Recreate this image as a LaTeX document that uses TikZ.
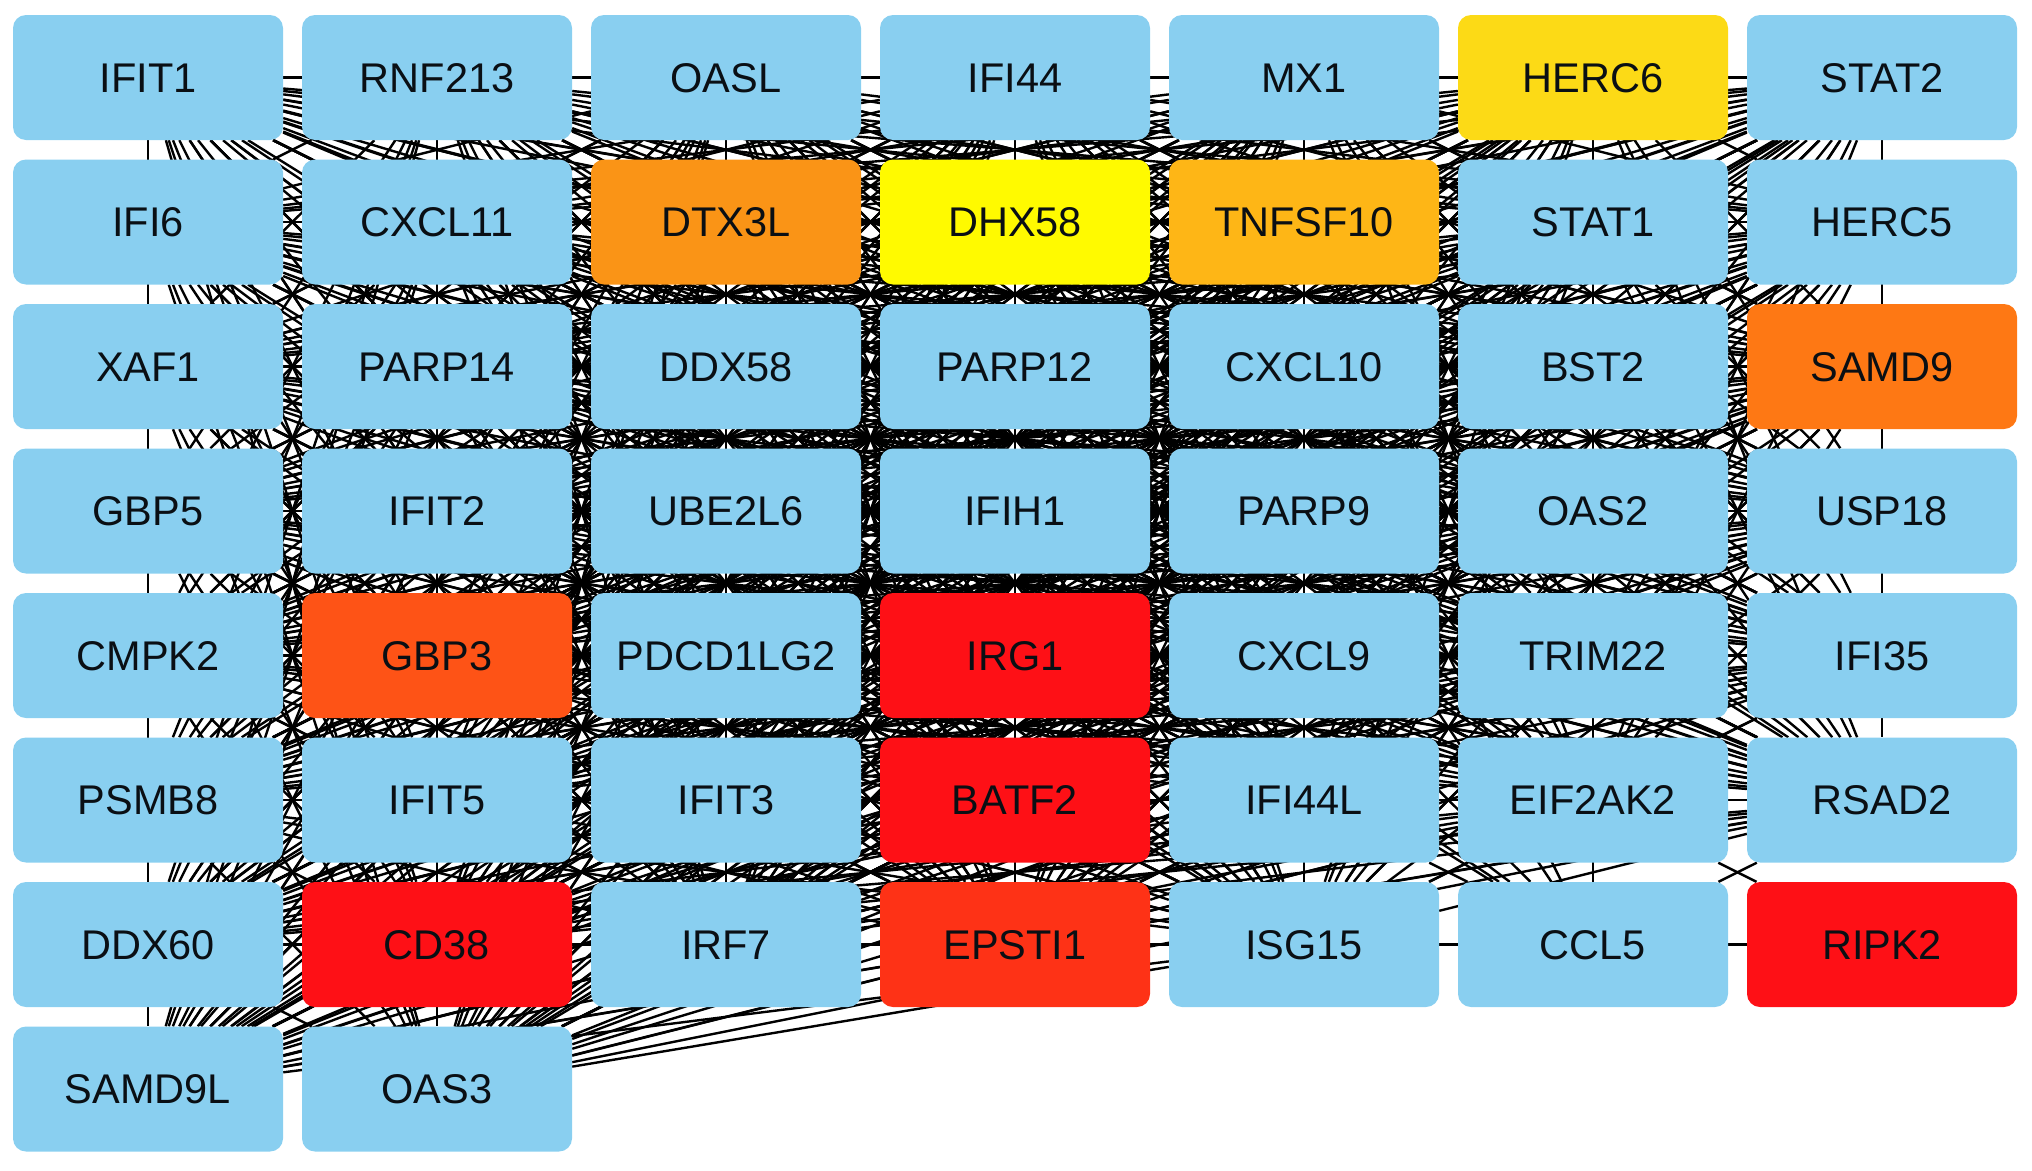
\documentclass[tikz,border=0pt]{standalone}
\usepackage{fontspec}
\newfontfamily\genefont{Liberation Sans}
\usetikzlibrary{backgrounds}
\definecolor{cb}{RGB}{137,207,240}
\definecolor{cherc}{RGB}{252,218,22}
\definecolor{cdtx}{RGB}{250,148,22}
\definecolor{cdhx}{RGB}{255,250,0}
\definecolor{ctnf}{RGB}{254,182,22}
\definecolor{csamd}{RGB}{254,120,20}
\definecolor{cgbp}{RGB}{254,83,22}
\definecolor{cred}{RGB}{254,16,22}
\definecolor{cep}{RGB}{254,50,22}
\definecolor{ctxt}{RGB}{10,15,20}
\tikzset{
  gn/.style={rectangle, rounded corners=13pt, minimum width=270pt, minimum height=125pt,
    inner sep=0pt, text height=29.5pt, text depth=0pt, text=ctxt,
    font={\genefont\fontsize{41.5}{45}\selectfont}, fill=cb},
  edge/.style={line width=2.4pt, black}
}
\begin{document}
\begin{tikzpicture}[x=1pt,y=-1pt]
\useasboundingbox (0,0) rectangle (2032,1170);
% row 1
\node[gn] (n1) at (148,77.5) {IFIT1};
\node[gn] (n2) at (437,77.5) {RNF213};
\node[gn] (n3) at (726,77.5) {OASL};
\node[gn] (n4) at (1015,77.5) {IFI44};
\node[gn] (n5) at (1304,77.5) {MX1};
\node[gn, fill=cherc] (n6) at (1593,77.5) {HERC6};
\node[gn] (n7) at (1882,77.5) {STAT2};
% row 2
\node[gn] (n8) at (148,222) {IFI6};
\node[gn] (n9) at (437,222) {CXCL11};
\node[gn, fill=cdtx] (n10) at (726,222) {DTX3L};
\node[gn, fill=cdhx] (n11) at (1015,222) {DHX58};
\node[gn, fill=ctnf] (n12) at (1304,222) {TNFSF10};
\node[gn] (n13) at (1593,222) {STAT1};
\node[gn] (n14) at (1882,222) {HERC5};
% row 3
\node[gn] (n15) at (148,366.5) {XAF1};
\node[gn] (n16) at (437,366.5) {PARP14};
\node[gn] (n17) at (726,366.5) {DDX58};
\node[gn] (n18) at (1015,366.5) {PARP12};
\node[gn] (n19) at (1304,366.5) {CXCL10};
\node[gn] (n20) at (1593,366.5) {BST2};
\node[gn, fill=csamd] (n21) at (1882,366.5) {SAMD9};
% row 4
\node[gn] (n22) at (148,511) {GBP5};
\node[gn] (n23) at (437,511) {IFIT2};
\node[gn] (n24) at (726,511) {UBE2L6};
\node[gn] (n25) at (1015,511) {IFIH1};
\node[gn] (n26) at (1304,511) {PARP9};
\node[gn] (n27) at (1593,511) {OAS2};
\node[gn] (n28) at (1882,511) {USP18};
% row 5
\node[gn] (n29) at (148,655.5) {CMPK2};
\node[gn, fill=cgbp] (n30) at (437,655.5) {GBP3};
\node[gn] (n31) at (726,655.5) {PDCD1LG2};
\node[gn, fill=cred] (n32) at (1015,655.5) {IRG1};
\node[gn] (n33) at (1304,655.5) {CXCL9};
\node[gn] (n34) at (1593,655.5) {TRIM22};
\node[gn] (n35) at (1882,655.5) {IFI35};
% row 6
\node[gn] (n36) at (148,800) {PSMB8};
\node[gn] (n37) at (437,800) {IFIT5};
\node[gn] (n38) at (726,800) {IFIT3};
\node[gn, fill=cred] (n39) at (1015,800) {BATF2};
\node[gn] (n40) at (1304,800) {IFI44L};
\node[gn] (n41) at (1593,800) {EIF2AK2};
\node[gn] (n42) at (1882,800) {RSAD2};
% row 7
\node[gn] (n43) at (148,944.5) {DDX60};
\node[gn, fill=cred] (n44) at (437,944.5) {CD38};
\node[gn] (n45) at (726,944.5) {IRF7};
\node[gn, fill=cep] (n46) at (1015,944.5) {EPSTI1};
\node[gn] (n47) at (1304,944.5) {ISG15};
\node[gn] (n48) at (1593,944.5) {CCL5};
\node[gn, fill=cred] (n49) at (1882,944.5) {RIPK2};
% row 8
\node[gn] (n50) at (148,1089) {SAMD9L};
\node[gn] (n51) at (437,1089) {OAS3};
\begin{pgfonlayer}{background}
\foreach \i in {1,...,50} {
  \pgfmathtruncatemacro{\jstart}{\i+1}
  \foreach \j in {\jstart,...,51} {
    \ifnum\i<48
      \ifnum\j=48 \else\ifnum\j=49 \else
        \draw[edge] (n\i) -- (n\j);
      \fi\fi
    \fi
  }
}
\foreach \k in {47,42,33,19,9,13,45,25,17,40,26,46}
  \draw[edge] (n48) -- (n\k);
\draw[edge] (n49) -- (n48);
\draw[edge] (n49) -- (n41);
\end{pgfonlayer}
\end{tikzpicture}
\end{document}
